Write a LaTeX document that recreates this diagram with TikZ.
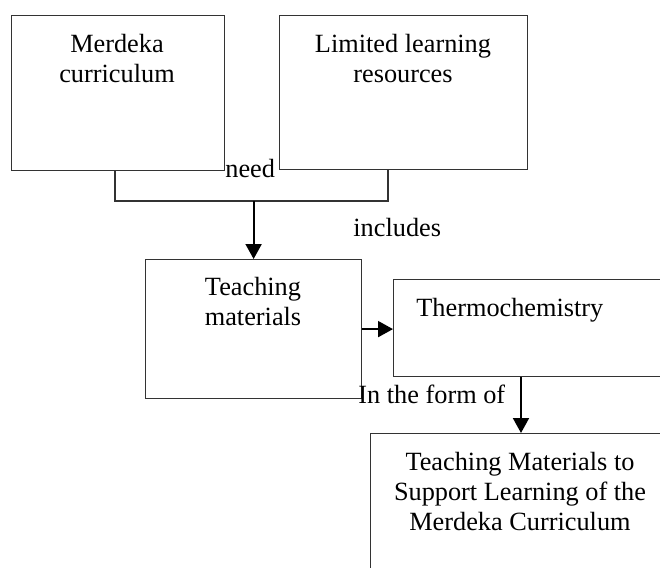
\documentclass[tikz,border=0pt]{standalone}
\usepackage{fontspec}
\setmainfont{Liberation Serif}
\usetikzlibrary{arrows.meta,calc}

\begin{document}
\begin{tikzpicture}[x = 0.5pt, y = -0.5pt,
    every node/.style = {font = \fontsize{13.15}{15}\selectfont, inner sep = 0pt},
    box/.style = {draw = black!80, line width = 0.6pt, anchor = north west},
    boxtext/.style = {align = center, anchor = north},
    link/.style = {draw = black!80, line width = 0.6pt},
    arrow/.style = {line width = 1pt, -{Triangle[length = 7.5pt, width = 8pt]}}]
    \useasboundingbox (0,0) rectangle (660,568);
    \clip (0,0) rectangle (660,568);
    % boxes
    \node[box, minimum width = 106.5pt, minimum height = 77.5pt] (merdeka) at (11,15) {};
    \node[box, minimum width = 124pt, minimum height = 77pt] (limited) at (279,15) {};
    \node[box, minimum width = 108pt, minimum height = 69.5pt] (teaching) at (145,259) {};
    \node[box, minimum width = 160pt, minimum height = 48.5pt] (thermo) at (393,279) {};
    \node[box, minimum width = 165pt, minimum height = 90pt] (support) at (370,433) {};
    % texts
    \node[boxtext] (merdekatext) at (117,34) {Merdeka\\curriculum};
    \node[boxtext] (limitedtext) at (403,34) {Limited learning\\resources};
    \node[boxtext] (teachingtext) at (253,277) {Teaching\\materials};
    \node[anchor = north west] (thermotext) at (416,298) {Thermochemistry};
    \node[boxtext] (supporttext) at (520,452) {Teaching Materials to\\Support Learning of the\\Merdeka Curriculum};
    % labels
    \node[anchor = base west] (need) at (225,177) {need};
    \node[anchor = base west] (includes) at (353,236) {includes};
    \node[anchor = base west] (form) at (358,403) {In the form of};
    % connectors
    \coordinate (joinL) at (115,201);
    \coordinate (joinR) at (388,201);
    \coordinate (drop) at (521,400);
    \draw[link] (merdeka.south -| joinL) -- (joinL) -- (joinR) -- (limited.south -| joinR);
    \draw[arrow] (teaching.north |- joinL) -- (teaching.north);
    \draw[arrow] (teaching.east) -- (teaching.east -| thermo.west);
    \draw[arrow] (thermo.south -| drop) -- (support.north -| drop);
\end{tikzpicture}
\end{document}
